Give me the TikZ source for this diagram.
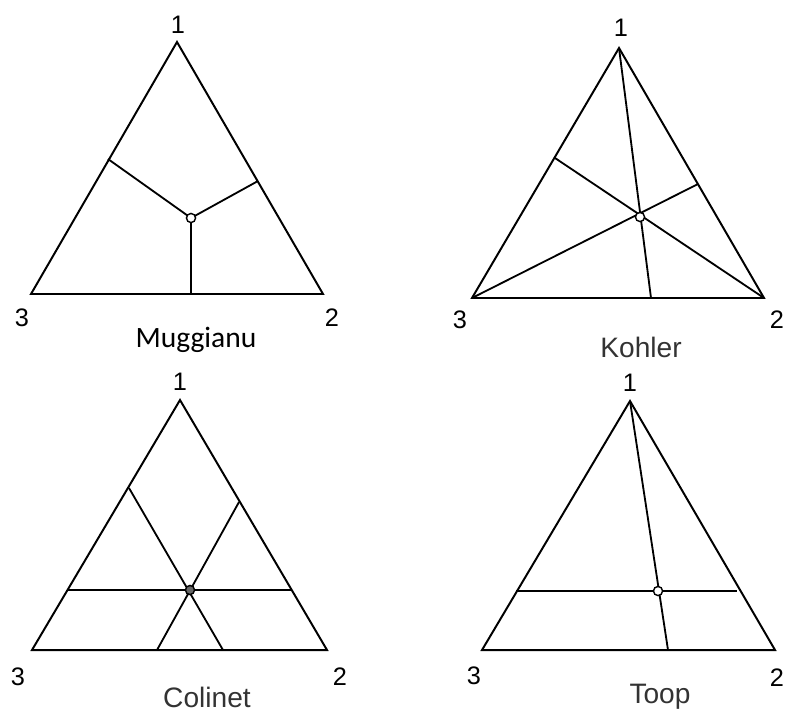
\documentclass[tikz,border=0pt]{standalone}
\usepackage{fontspec}
\setmainfont{Liberation Sans}
\newfontfamily\calibrifont{Carlito}
\usetikzlibrary{calc,positioning}

\tikzset{
  side/.style={line width=1.4pt, line join=miter},
  cut/.style={line width=1.3pt},
  pt/.style={circle, draw, line width=1pt, fill=white, inner sep=0pt, minimum size=6.5pt},
  corner/.style={font=\fontsize{18}{18}\selectfont},
  title/.style={font=\fontsize{20}{20}\selectfont, text=black!80}
}

\begin{document}
\begin{tikzpicture}[x=0.025cm, y=-0.025cm]
        \useasboundingbox (0,0) rectangle (786,713);

        % Muggianu
        \coordinate (m1) at (177,42);
        \coordinate (m2) at (323,294);
        \coordinate (m3) at (31,294);
        \coordinate (mp) at (191,218);
        \coordinate (ml) at (108,159);
        \coordinate (mr) at (258,181);
        \coordinate (mb) at (191,294);
        \draw[side] (m1) -- (m2) -- (m3) -- cycle;
        \draw[cut] (ml) -- (mp) -- (mr);
        \draw[cut] (mp) -- (mb);
        \node[pt] (mc) at (mp) {};
        \node[corner] (mn1) at (178,25) {1};
        \node[corner] (mn3) at (22,318) {3};
        \node[corner] (mn2) at (332,318) {2};
        \node[font=\calibrifont\fontsize{21}{21}\selectfont] (mt) at (196,340) {Muggianu};

        % Kohler
        \coordinate (k1) at (619,48);
        \coordinate (k2) at (764,298);
        \coordinate (k3) at (472,298);
        \coordinate (kp) at (640,217);
        \coordinate (kl) at (555,158);
        \coordinate (kr) at (698,184);
        \coordinate (kb) at (651,298);
        \draw[side] (k1) -- (k2) -- (k3) -- cycle;
        \draw[cut] (k1) -- (kb);
        \draw[cut] (k3) -- (kr);
        \draw[cut] (k2) -- (kl);
        \node[pt] (kc) at (kp) {};
        \node[corner] (kn1) at (621,28) {1};
        \node[corner] (kn3) at (460,320) {3};
        \node[corner] (kn2) at (777,320) {2};
        \node[title] (kt) at (641,347) {Kohler};

        % Colinet
        \coordinate (c1) at (180,400);
        \coordinate (c2) at (327,650);
        \coordinate (c3) at (32,650);
        \coordinate (cp) at (190,590);
        \coordinate (cl) at (68,590);
        \coordinate (cr) at (292,590);
        \coordinate (cu) at (129,488);
        \coordinate (cv) at (239,502);
        \coordinate (cb) at (157,650);
        \coordinate (cd) at (223,650);
        \draw[side] (c1) -- (c2) -- (c3) -- cycle;
        \draw[cut] (cl) -- (cr);
        \draw[cut] (cu) -- (cd);
        \draw[cut] (cv) -- (cb);
        \node[pt, fill=black!60] (cc) at (cp) {};
        \node[corner] (cn1) at (180,382) {1};
        \node[corner] (cn3) at (18,677) {3};
        \node[corner] (cn2) at (340,677) {2};
        \node[title] (ct) at (207,697) {Colinet};

        % Toop
        \coordinate (t1) at (630,401);
        \coordinate (t2) at (775,650);
        \coordinate (t3) at (482,650);
        \coordinate (tp) at (658,591);
        \coordinate (tl) at (516,591);
        \coordinate (tr) at (737,591);
        \coordinate (tb) at (668,650);
        \draw[side] (t1) -- (t2) -- (t3) -- cycle;
        \draw[cut] (tl) -- (tr);
        \draw[cut] (t1) -- (tb);
        \node[pt] (tc) at (tp) {};
        \node[corner] (tn1) at (630,383) {1};
        \node[corner] (tn3) at (474,676) {3};
        \node[corner] (tn2) at (777,678) {2};
        \node[title] (tt) at (660,697) {Toop};
\end{tikzpicture}
\end{document}
